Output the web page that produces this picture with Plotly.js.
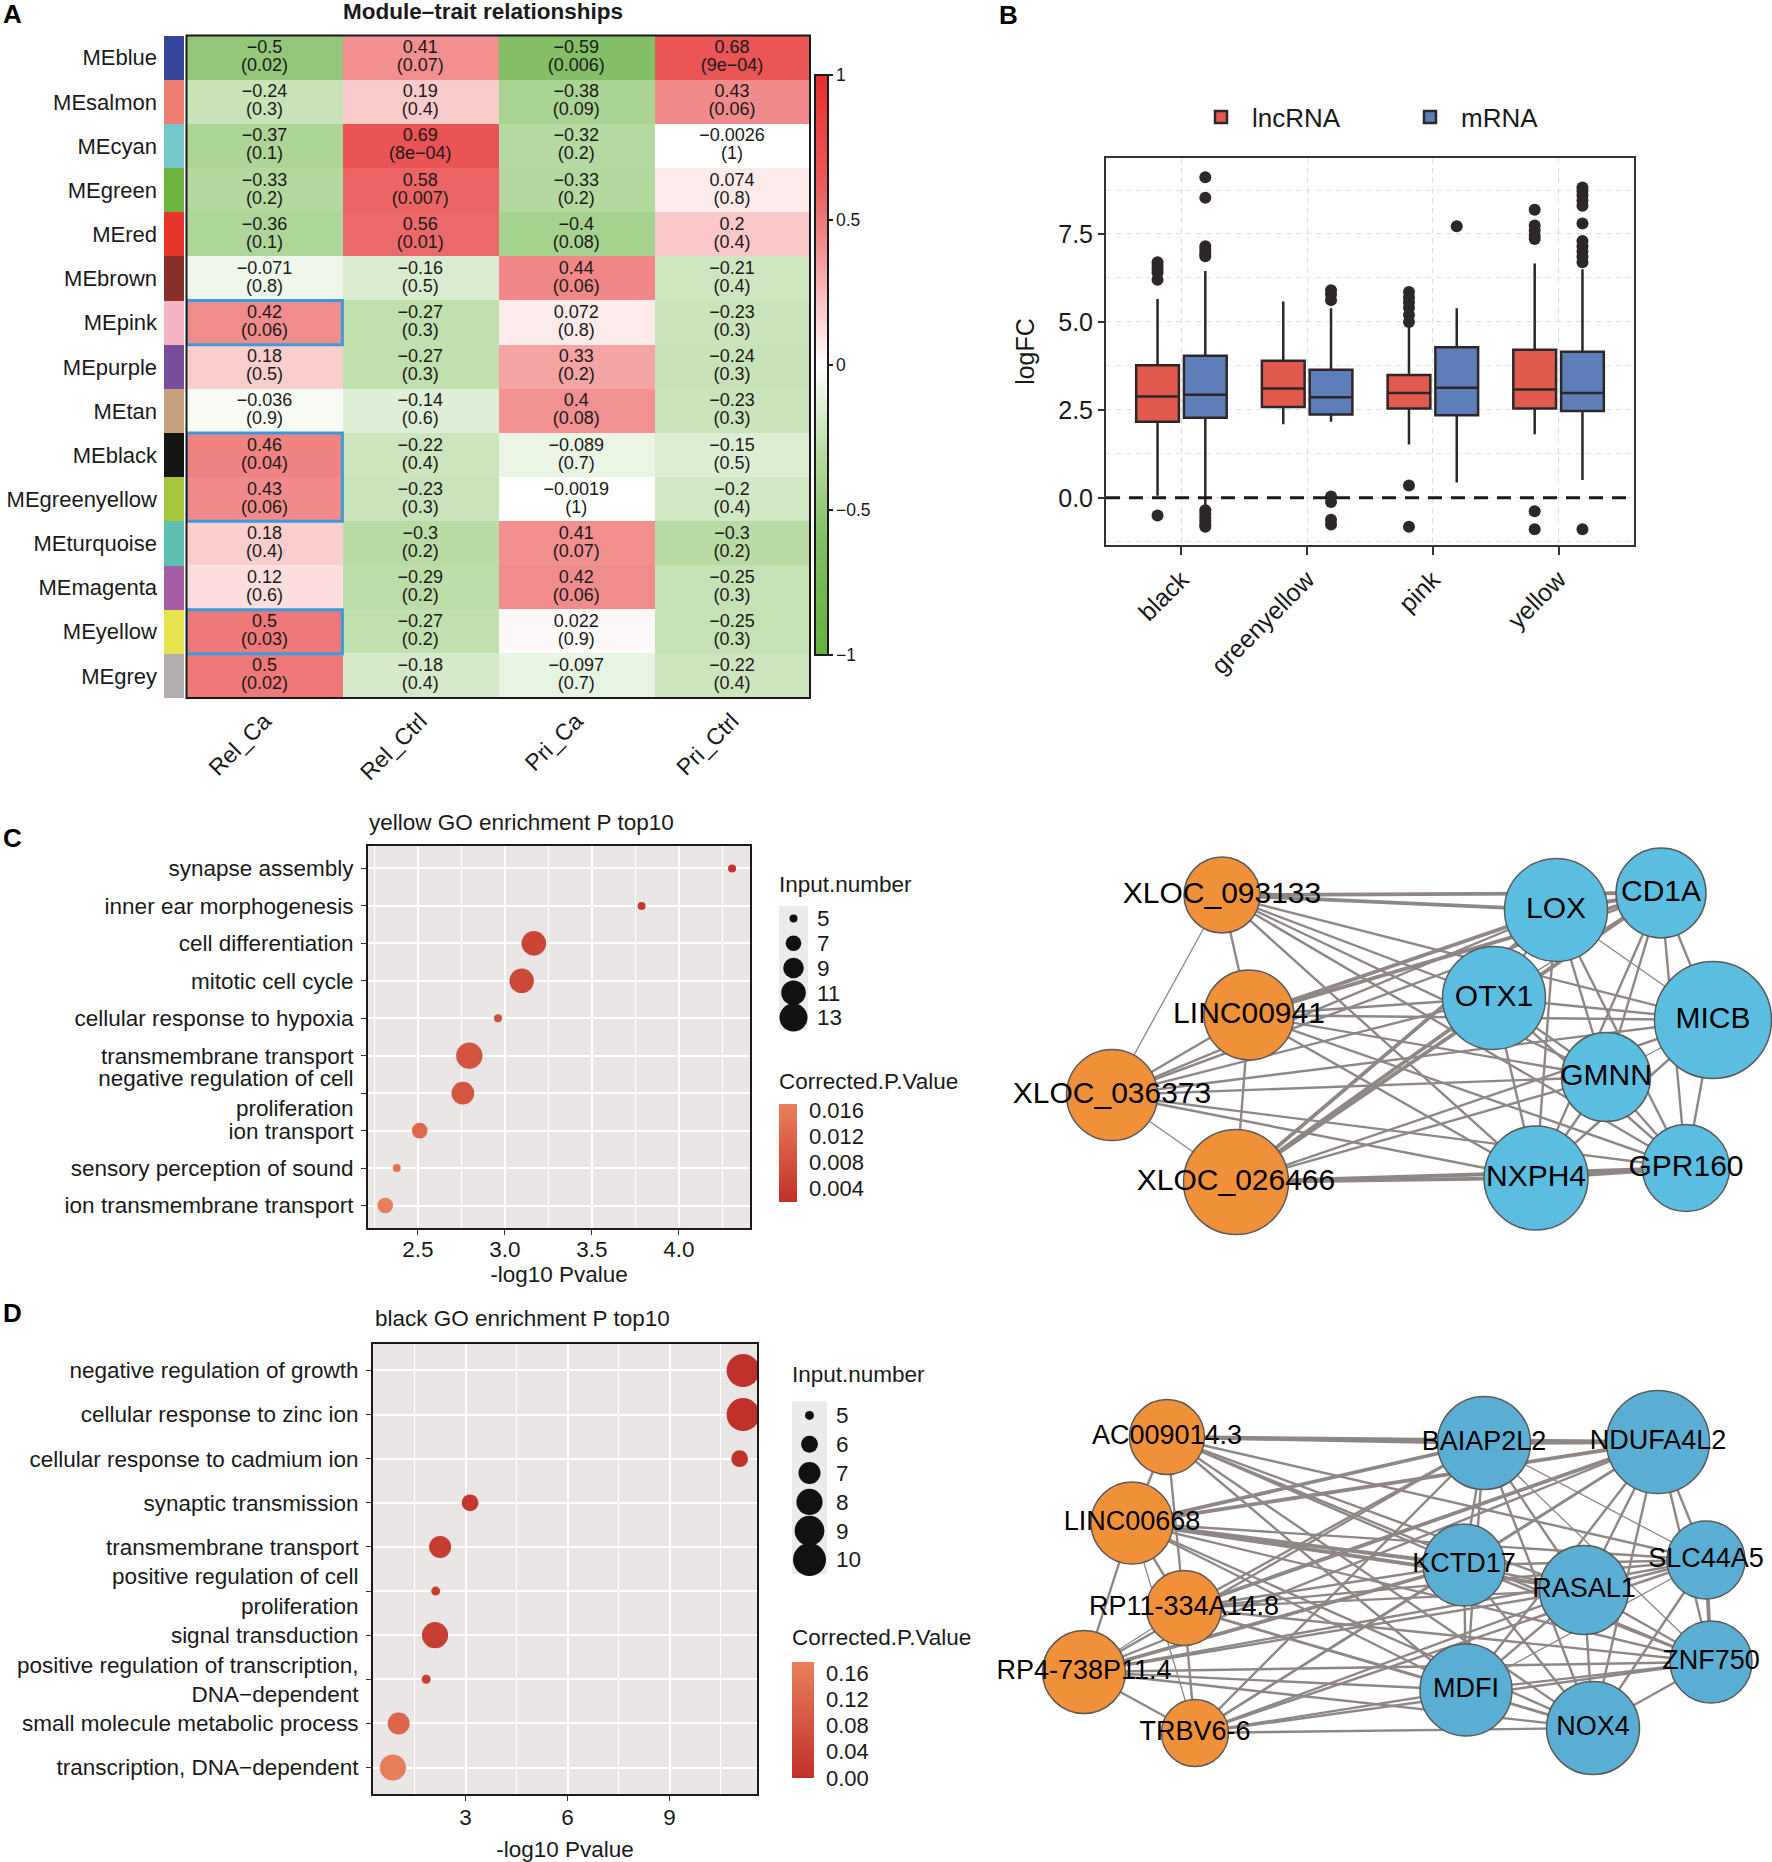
<!DOCTYPE html>
<html><head><meta charset="utf-8">
<script src="https://cdn.plot.ly/plotly-3.0.1.min.js"></script>
<style>html,body{margin:0;padding:0;background:#fff;}#chart{width:1772px;height:1862px;}</style>
</head><body><div id="chart"></div>
<script>
// ================= Panel A data =================
const modules = ['MEblue','MEsalmon','MEcyan','MEgreen','MEred','MEbrown','MEpink','MEpurple','MEtan','MEblack','MEgreenyellow','MEturquoise','MEmagenta','MEyellow','MEgrey'];
const moduleColors = ['#35469A','#F07E70','#74C7CB','#6CB43E','#E8352B','#8A2E28','#F4B4C6','#7A4C9C','#C8A27E','#141414','#A3C63B','#5EBEB0','#A65BA5','#E7E34C','#B2ACAC'];
const traits = ['Rel_Ca','Rel_Ctrl','Pri_Ca','Pri_Ctrl'];
const corrValues = [
  [-0.5, 0.41, -0.59, 0.68],
  [-0.24, 0.19, -0.38, 0.43],
  [-0.37, 0.69, -0.32, -0.0026],
  [-0.33, 0.58, -0.33, 0.074],
  [-0.36, 0.56, -0.4, 0.2],
  [-0.071, -0.16, 0.44, -0.21],
  [0.42, -0.27, 0.072, -0.23],
  [0.18, -0.27, 0.33, -0.24],
  [-0.036, -0.14, 0.4, -0.23],
  [0.46, -0.22, -0.089, -0.15],
  [0.43, -0.23, -0.0019, -0.2],
  [0.18, -0.3, 0.41, -0.3],
  [0.12, -0.29, 0.42, -0.25],
  [0.5, -0.27, 0.022, -0.25],
  [0.5, -0.18, -0.097, -0.22]
];
const pValueLabels = [
  ['0.02','0.07','0.006','9e\u221204'],
  ['0.3','0.4','0.09','0.06'],
  ['0.1','8e\u221204','0.2','1'],
  ['0.2','0.007','0.2','0.8'],
  ['0.1','0.01','0.08','0.4'],
  ['0.8','0.5','0.06','0.4'],
  ['0.06','0.3','0.8','0.3'],
  ['0.5','0.3','0.2','0.3'],
  ['0.9','0.6','0.08','0.3'],
  ['0.04','0.4','0.7','0.5'],
  ['0.06','0.3','1','0.4'],
  ['0.4','0.2','0.07','0.2'],
  ['0.6','0.2','0.06','0.3'],
  ['0.03','0.2','0.9','0.3'],
  ['0.02','0.4','0.7','0.4']
];
const highlightTrait = 'Rel_Ca';
const highlightGroups = [['MEpink'],['MEblack','MEgreenyellow'],['MEyellow']];
const corrTicks = [-1,-0.5,0,0.5,1];

// ================= Panel B data =================
const boxCats = ['black','greenyellow','pink','yellow'];
const lncQ1 = [2.16, 2.58, 2.54, 2.54];
const lncMedian = [2.88, 3.11, 2.98, 3.08];
const lncQ3 = [3.77, 3.90, 3.49, 4.21];
const lncLower = [0.06, 2.09, 1.52, 1.81];
const lncUpper = [5.65, 5.58, 4.85, 6.66];
const lncOutliers = [
  [6.7, 6.6, 6.5, 6.4, 6.2, -0.5],
  [],
  [5.85, 5.7, 5.55, 5.4, 5.2, 5.0, 0.35, -0.82],
  [8.19, 7.74, 7.6, 7.45, 7.36, -0.38, -0.89]
];
const mrnaQ1 = [2.28, 2.37, 2.35, 2.47];
const mrnaMedian = [2.93, 2.86, 3.13, 2.98];
const mrnaQ3 = [4.04, 3.64, 4.28, 4.15];
const mrnaLower = [-0.2, 2.16, 0.44, 0.51];
const mrnaUpper = [6.45, 5.39, 5.39, 6.5];
const mrnaOutliers = [
  [9.11, 8.53, 7.15, 7.05, 6.95, 6.87, -0.35, -0.45, -0.55, -0.65, -0.75, -0.82],
  [5.9, 5.78, 5.62, 0.04, -0.12, -0.62, -0.76],
  [7.72],
  [8.82, 8.72, 8.6, 8.45, 8.3, 7.8, 7.3, 7.15, 7.0, 6.85, 6.7, -0.89]
];
const logFCTicks = [0, 2.5, 5, 7.5];

// ================= Panel C data =================
const termsC = ['synapse assembly','inner ear morphogenesis','cell differentiation','mitotic cell cycle','cellular response to hypoxia','transmembrane transport','negative regulation of cell<br>proliferation','ion transport','sensory perception of sound','ion transmembrane transport'];
const log10PC = [4.305, 3.785, 3.166, 3.096, 2.96, 2.795, 2.758, 2.51, 2.378, 2.312];
const countC = [5, 5, 11, 11, 5, 12, 10, 7, 5, 7];
const padjC = [0.0022, 0.0032, 0.0058, 0.0064, 0.0072, 0.0088, 0.009, 0.0125, 0.0145, 0.0165];
const sizeBreaksC = [5, 7, 9, 11, 13];
const padjTicksC = [0.004, 0.008, 0.012, 0.016];
const xTicksC = [2.5, 3.0, 3.5, 4.0];

// ================= Panel D data =================
const termsD = ['negative regulation of growth','cellular response to zinc ion','cellular response to cadmium ion','synaptic transmission','transmembrane transport','positive regulation of cell<br>proliferation','signal transduction','positive regulation of transcription,<br>DNA\u2212dependent','small molecule metabolic process','transcription, DNA\u2212dependent'];
const log10PD = [11.16, 11.16, 11.06, 3.13, 2.25, 2.12, 2.10, 1.84, 1.03, 0.86];
const countD = [10, 10, 6, 6, 7, 5, 8, 5, 7, 8];
const padjD = [0.003, 0.003, 0.005, 0.016, 0.026, 0.028, 0.03, 0.034, 0.12, 0.17];
const sizeBreaksD = [5, 6, 7, 8, 9, 10];
const padjTicksD = [0, 0.04, 0.08, 0.12, 0.16];
const xTicksD = [3, 6, 9];

// ================= Networks (layout coordinates) =================
const net1Names = ['XLOC_093133','LINC00941','XLOC_036373','XLOC_026466','LOX','CD1A','OTX1','MICB','GMNN','NXPH4','GPR160'];
const net1Type  = ['lnc','lnc','lnc','lnc','m','m','m','m','m','m','m'];
const net1X = [182, 209, 72, 196, 516, 621, 454, 673, 566, 496, 646];
const net1Y = [45, 165, 245, 332, 60, 43, 148, 170, 227, 328, 318];
const net1Size = [76, 90, 91, 105, 103, 90, 103, 117, 89, 104, 87];
const net1Lnc = ['XLOC_093133','LINC00941','XLOC_036373','XLOC_026466'];
const net1Mrna = ['LOX','CD1A','OTX1','MICB','GMNN','NXPH4','GPR160'];
const net1LncMrnaWeight = [
  [3,3,2,2,2,2,2],
  [3,3,2,2,2,2,2],
  [2,2,2,2,2,2,2],
  [3,3,3,2,2,3,3]
];
const net1OtherEdges = [
  ['XLOC_093133','LINC00941',2],['XLOC_093133','XLOC_036373',1],['LINC00941','XLOC_036373',2],
  ['LINC00941','XLOC_026466',2],['XLOC_036373','XLOC_026466',1],
  ['LOX','CD1A',3],['LOX','MICB',1],['LOX','GMNN',2],['LOX','NXPH4',2],['LOX','GPR160',2],['LOX','OTX1',2],
  ['CD1A','MICB',2],['CD1A','GMNN',2],['CD1A','GPR160',2],['CD1A','NXPH4',2],['CD1A','OTX1',1],
  ['OTX1','GMNN',2],['OTX1','NXPH4',2],['OTX1','GPR160',2],['OTX1','MICB',2],
  ['MICB','GPR160',2],['MICB','GMNN',1],['MICB','NXPH4',2],
  ['GMNN','NXPH4',2],['GMNN','GPR160',2],['NXPH4','GPR160',3]
];

const net2Names = ['AC009014.3','LINC00668','RP11-334A14.8','RP4-738P11.4','TRBV6-6','BAIAP2L2','NDUFA4L2','KCTD17','RASAL1','SLC44A5','ZNF750','MDFI','NOX4'];
const net2Type  = ['lnc','lnc','lnc','lnc','lnc','m','m','m','m','m','m','m','m'];
const net2X = [127, 92, 144, 44, 155, 444, 618, 424, 544, 666, 671, 426, 553];
const net2Y = [57, 143, 228, 292, 353, 63, 62, 185, 210, 180, 282, 310, 348];
const net2Size = [75, 82, 75, 83, 67, 93, 103, 82, 89, 78, 82, 92, 93];
const net2Lnc = ['AC009014.3','LINC00668','RP11-334A14.8','RP4-738P11.4','TRBV6-6'];
const net2Mrna = ['BAIAP2L2','NDUFA4L2','KCTD17','RASAL1','SLC44A5','ZNF750','MDFI','NOX4'];
const net2LncMrnaWeight = [
  [3,3,2,2,2,2,2,2],
  [3,3,3,3,2,2,2,2],
  [2,3,2,2,2,2,2,2],
  [2,2,3,2,2,2,2,2],
  [2,2,2,2,2,2,2,2]
];
const net2OtherEdges = [
  ['AC009014.3','LINC00668',2],['AC009014.3','RP11-334A14.8',2],['LINC00668','RP11-334A14.8',2],
  ['LINC00668','RP4-738P11.4',2],['LINC00668','TRBV6-6',1],['RP11-334A14.8','TRBV6-6',2],
  ['RP4-738P11.4','TRBV6-6',2],['RP4-738P11.4','RP11-334A14.8',1],
  ['BAIAP2L2','NDUFA4L2',3],['BAIAP2L2','KCTD17',2],['BAIAP2L2','RASAL1',2],['BAIAP2L2','SLC44A5',1],
  ['BAIAP2L2','ZNF750',1],['BAIAP2L2','MDFI',2],['BAIAP2L2','NOX4',2],
  ['NDUFA4L2','KCTD17',2],['NDUFA4L2','RASAL1',2],['NDUFA4L2','SLC44A5',2],['NDUFA4L2','ZNF750',2],
  ['NDUFA4L2','MDFI',2],['NDUFA4L2','NOX4',2],
  ['KCTD17','RASAL1',2],['KCTD17','SLC44A5',2],['KCTD17','ZNF750',2],['KCTD17','MDFI',2],['KCTD17','NOX4',2],
  ['RASAL1','SLC44A5',2],['RASAL1','ZNF750',2],['RASAL1','MDFI',2],['RASAL1','NOX4',2],
  ['SLC44A5','ZNF750',3],['SLC44A5','MDFI',1],['SLC44A5','NOX4',2],
  ['ZNF750','MDFI',2],['ZNF750','NOX4',2],['MDFI','NOX4',2]
];

// ================= Helpers =================
const W = 1772, H = 1862;
const FONT = 'Liberation Sans, Arial, Helvetica, sans-serif';
const INK = '#1a1a1a';
const xd = (a, b) => [a / W, b / W];
const yd = (top, bottom) => [1 - bottom / H, 1 - top / H];
const px = v => v / W;
const py = v => 1 - v / H;
const fmtNum = v => String(v).replace('-', '\u2212');
const sizeC = n => Math.sqrt(64 + 90 * (n - 5));
const sizeD = n => Math.sqrt(81 + 201.6 * (n - 5));

const traces = [];
const shapes = [];
const annotations = [];

// ================= Panel A =================
const heatScale = [[0,'rgb(100,176,60)'],[0.2,'rgb(128,190,100)'],[0.35,'rgb(185,220,165)'],[0.5,'rgb(255,255,255)'],[0.6,'rgb(250,200,200)'],[0.7,'rgb(242,145,145)'],[0.8,'rgb(235,95,95)'],[1,'rgb(230,45,45)']];
traces.push({
  type: 'heatmap', x: traits, y: modules, z: corrValues, zmin: -1, zmax: 1,
  colorscale: heatScale, xaxis: 'x', yaxis: 'y', hoverinfo: 'skip', showlegend: false,
  colorbar: {
    x: px(815), xanchor: 'left', y: py(75), yanchor: 'top', len: 580, lenmode: 'pixels',
    thickness: 13, thicknessmode: 'pixels', outlinewidth: 2, outlinecolor: INK, xpad: 0, ypad: 0,
    tickvals: corrTicks, ticktext: corrTicks.map(fmtNum), ticks: 'outside', ticklen: 4,
    tickwidth: 2, tickcolor: INK, tickfont: {size: 17.5, color: INK, family: FONT}
  }
});
// module colour strip
traces.push({
  type: 'bar', orientation: 'h', y: modules, x: modules.map(() => 1),
  marker: {color: moduleColors, line: {width: 0}}, width: 1,
  xaxis: 'x7', yaxis: 'y', hoverinfo: 'skip', showlegend: false
});
// cell texts (correlation above, p-value below)
const cellX = [], cellY = [], cellR = [], cellP = [];
modules.forEach((m, i) => traits.forEach((t, j) => {
  cellX.push(t); cellY.push(m);
  cellR.push(fmtNum(corrValues[i][j]));
  cellP.push('(' + pValueLabels[i][j] + ')');
}));
traces.push({type:'scatter', mode:'text', x: cellX, y: cellY, text: cellR, textposition: 'top center',
  textfont: {size: 18, color: INK, family: FONT}, marker: {size: 1}, xaxis: 'x', yaxis: 'y',
  hoverinfo: 'skip', showlegend: false, cliponaxis: false});
traces.push({type:'scatter', mode:'text', x: cellX, y: cellY, text: cellP, textposition: 'bottom center',
  textfont: {size: 18, color: INK, family: FONT}, marker: {size: 1}, xaxis: 'x', yaxis: 'y',
  hoverinfo: 'skip', showlegend: false, cliponaxis: false});
// highlight rectangles
const hx = traits.indexOf(highlightTrait);
highlightGroups.forEach(g => {
  const idx = g.map(m => modules.indexOf(m));
  shapes.push({type: 'rect', xref: 'x', yref: 'y', x0: hx - 0.5, x1: hx + 0.5,
    y0: Math.min(...idx) - 0.5, y1: Math.max(...idx) + 0.5,
    line: {color: '#3A9BDA', width: 3}, fillcolor: 'rgba(0,0,0,0)', layer: 'above'});
});
shapes.push({type:'rect', xref:'x domain', yref:'y domain', x0:0, x1:1, y0:0, y1:1, line:{color:INK, width:2}, layer:'above'});

// ================= Panel B =================
const lncOffset = -0.19, mrnaOffset = 0.19;
const lncPos = boxCats.map((c, i) => i + lncOffset);
const mrnaPos = boxCats.map((c, i) => i + mrnaOffset);
traces.push({type:'box', name:'lncRNA', x: lncPos, q1: lncQ1, median: lncMedian, q3: lncQ3,
  lowerfence: lncLower, upperfence: lncUpper, width: 0.34, whiskerwidth: 0, boxpoints: false,
  fillcolor: '#E05A4E', line: {color: '#2D2727', width: 2.5}, xaxis: 'x2', yaxis: 'y2', hoverinfo: 'skip'});
traces.push({type:'box', name:'mRNA', x: mrnaPos, q1: mrnaQ1, median: mrnaMedian, q3: mrnaQ3,
  lowerfence: mrnaLower, upperfence: mrnaUpper, width: 0.34, whiskerwidth: 0, boxpoints: false,
  fillcolor: '#5E7EBA', line: {color: '#2D2727', width: 2.5}, xaxis: 'x2', yaxis: 'y2', hoverinfo: 'skip'});
const outX = [], outY = [];
lncOutliers.forEach((arr, i) => arr.forEach(v => { outX.push(lncPos[i]); outY.push(v); }));
mrnaOutliers.forEach((arr, i) => arr.forEach(v => { outX.push(mrnaPos[i]); outY.push(v); }));
traces.push({type:'scatter', mode:'markers', x: outX, y: outY, marker: {size: 12, color: '#2D2727'},
  xaxis: 'x2', yaxis: 'y2', hoverinfo: 'skip', showlegend: false});
shapes.push({type:'line', xref:'x2 domain', yref:'y2', x0:0, x1:1, y0:0, y1:0,
  line:{color:INK, width:3, dash:'14px,9px'}, layer:'above'});

// ================= Panel C =================
const padjScale = [[0,'#C0302A'],[1,'#E9805B']];
const padjColorbar = (left, top, len, thick, vals, digits) => ({
  x: px(left), xanchor: 'left', y: py(top), yanchor: 'top', len: len, lenmode: 'pixels',
  thickness: thick, thicknessmode: 'pixels', outlinewidth: 0, xpad: 0, ypad: 0,
  tickvals: vals, ticktext: vals.map(v => v.toFixed(digits)), ticks: 'outside', ticklen: 8,
  tickcolor: 'rgba(0,0,0,0)', tickfont: {size: 22, color: INK, family: FONT}
});
traces.push({type:'scatter', mode:'markers', x: log10PC, y: termsC,
  marker: {size: countC.map(sizeC), sizemode: 'diameter', color: padjC, colorscale: padjScale,
    cmin: 0.00185, cmax: 0.0169, line: {width: 0}, opacity: 1,
    colorbar: padjColorbar(779, 1104, 98, 18, padjTicksC, 3)},
  xaxis: 'x3', yaxis: 'y3', hoverinfo: 'skip', showlegend: false});
traces.push({type:'scatter', mode:'markers', x: sizeBreaksC.map(() => 0), y: sizeBreaksC.map(String),
  marker: {size: sizeBreaksC.map(sizeC), sizemode: 'diameter', color: '#111111', opacity: 1, line:{width:0}},
  xaxis: 'x5', yaxis: 'y5', hoverinfo: 'skip', showlegend: false, cliponaxis: false});
shapes.push({type:'rect', xref:'x3 domain', yref:'y3 domain', x0:0, x1:1, y0:0, y1:1, fillcolor:'#EAE6E5', line:{width:0}, layer:'below'});
shapes.push({type:'rect', xref:'x5 domain', yref:'y5 domain', x0:0, x1:1, y0:0, y1:1, fillcolor:'#EBEBEB', line:{width:0}, layer:'below'});

// ================= Panel D =================
traces.push({type:'scatter', mode:'markers', x: log10PD, y: termsD,
  marker: {size: countD.map(sizeD), sizemode: 'diameter', color: padjD, colorscale: padjScale,
    cmin: 0.0, cmax: 0.177, line: {width: 0}, opacity: 1,
    colorbar: padjColorbar(792, 1662, 116, 22, padjTicksD, 2)},
  xaxis: 'x4', yaxis: 'y4', hoverinfo: 'skip', showlegend: false});
traces.push({type:'scatter', mode:'markers', x: sizeBreaksD.map(() => 0), y: sizeBreaksD.map(String),
  marker: {size: sizeBreaksD.map(sizeD), sizemode: 'diameter', color: '#111111', opacity: 1, line:{width:0}},
  xaxis: 'x6', yaxis: 'y6', hoverinfo: 'skip', showlegend: false, cliponaxis: false});
shapes.push({type:'rect', xref:'x4 domain', yref:'y4 domain', x0:0, x1:1, y0:0, y1:1, fillcolor:'#EAE6E5', line:{width:0}, layer:'below'});
shapes.push({type:'rect', xref:'x6 domain', yref:'y6 domain', x0:0, x1:1, y0:0, y1:1, fillcolor:'#EBEBEB', line:{width:0}, layer:'below'});

// ================= Networks =================
const edgeWidth = {1: 1.3, 2: 2.4, 3: 3.8};
function networkTraces(names, types, xs, ys, sizes, lncList, mrnaList, weights, others, xa, ya, mColor, fontSize) {
  const edges = [];
  lncList.forEach((l, i) => mrnaList.forEach((m, j) => edges.push([l, m, weights[i][j]])));
  others.forEach(e => edges.push(e));
  [1, 2, 3].forEach(w => {
    const ex = [], ey = [];
    edges.filter(e => e[2] === w).forEach(e => {
      const a = names.indexOf(e[0]), b = names.indexOf(e[1]);
      ex.push(xs[a], xs[b], null); ey.push(ys[a], ys[b], null);
    });
    traces.push({type:'scatter', mode:'lines', x: ex, y: ey, line: {color: '#8E8786', width: edgeWidth[w]},
      xaxis: xa, yaxis: ya, hoverinfo: 'skip', showlegend: false, cliponaxis: false});
  });
  traces.push({type:'scatter', mode:'markers+text', x: xs, y: ys, text: names, textposition: 'middle center',
    textfont: {size: fontSize, color: '#000', family: FONT},
    marker: {size: sizes, sizemode: 'diameter', color: types.map(t => t === 'lnc' ? '#F0913A' : mColor),
      line: {color: '#5A5A5A', width: 1.5}, opacity: 1},
    xaxis: xa, yaxis: ya, hoverinfo: 'skip', showlegend: false, cliponaxis: false});
}
networkTraces(net1Names, net1Type, net1X, net1Y, net1Size, net1Lnc, net1Mrna, net1LncMrnaWeight, net1OtherEdges, 'x8', 'y8', '#5BBEE0', 30);
networkTraces(net2Names, net2Type, net2X, net2Y, net2Size, net2Lnc, net2Mrna, net2LncMrnaWeight, net2OtherEdges, 'x9', 'y9', '#5AAED3', 27);

// ================= Annotations =================
function label(text, x, y, opts) {
  annotations.push(Object.assign({text, xref:'paper', yref:'paper', x: px(x), y: py(y), showarrow:false,
    xanchor:'left', yanchor:'middle', font:{size:22.5, color:INK, family:FONT}}, opts || {}));
}
label('<b>A</b>', 1, 14, {font:{size:26, color:'#000', family:FONT}});
label('<b>B</b>', 997, 15, {font:{size:26, color:'#000', family:FONT}});
label('<b>C</b>', 1, 838, {font:{size:26, color:'#000', family:FONT}});
label('<b>D</b>', 1, 1313, {font:{size:26, color:'#000', family:FONT}});
label('<b>Module\u2013trait relationships</b>', 483, 12, {xanchor:'center'});
label('yellow GO enrichment P top10', 521, 823, {xanchor:'center'});
label('black GO enrichment P top10', 522, 1318, {xanchor:'center'});
label('Input.number', 777, 884);
label('Corrected.P.Value', 777, 1081);
label('Input.number', 790, 1374);
label('Corrected.P.Value', 790, 1637);

// ================= Layout =================
const tickFont = {size: 22.5, color: INK, family: FONT};
const layout = {
  width: W, height: H, margin: {l:0, r:0, t:0, b:0, pad:0},
  paper_bgcolor: '#ffffff', plot_bgcolor: 'rgba(0,0,0,0)',
  font: {family: FONT, color: INK, size: 20},
  hovermode: false, bargap: 0, boxmode: 'overlay',
  showlegend: true,
  legend: {orientation:'h', x: px(1190), xanchor:'left', y: py(117), yanchor:'middle',
    font:{size:26, color:INK, family:FONT}, entrywidth: 142, entrywidthmode:'pixels', bgcolor:'rgba(0,0,0,0)', itemwidth: 52},
  // Panel A
  xaxis: {domain: xd(186.5, 810), anchor:'y', type:'category', range:[-0.5, traits.length - 0.5], tickangle:-45, ticks:'', showgrid:false,
    zeroline:false, showline:false, tickfont:{size:23, color:INK, family:FONT}, ticklabelstandoff: 4},
  yaxis: {domain: yd(35.6, 698), anchor:'x7', type:'category', range:[modules.length - 0.5, -0.5], ticks:'', showgrid:false,
    zeroline:false, showline:false, tickfont:{size:22, color:INK, family:FONT}, ticklabelstandoff: 6},
  xaxis7: {domain: xd(164, 184), anchor:'y', range:[0,1], visible:false, fixedrange:true},
  // Panel B
  xaxis2: {domain: xd(1106, 1634), anchor:'y2', range:[-0.6, 3.6], tickvals: boxCats.map((c,i)=>i), ticktext: boxCats,
    tickangle:-45, ticks:'outside', ticklen:8, tickwidth:2, tickcolor:'#333', showgrid:true, gridcolor:'#DDDDDD',
    griddash:'5px,5px', gridwidth:1, zeroline:false, showline:true, mirror:true, linecolor:'#333', linewidth:2,
    tickfont:{size:25, color:INK, family:FONT}},
  yaxis2: {domain: yd(158, 545), anchor:'x2', range:[-1.34, 9.66], tickvals: logFCTicks, ticktext: logFCTicks.map(v=>v.toFixed(1)),
    ticks:'outside', ticklen:6, tickwidth:2, tickcolor:'#333', showgrid:true, gridcolor:'#DDDDDD', griddash:'5px,5px',
    minor:{tick0:0, dtick:1.25, showgrid:true, gridcolor:'#E6E6E6', griddash:'5px,5px', ticklen:0},
    zeroline:false, showline:true, mirror:true, linecolor:'#333', linewidth:2,
    tickfont:{size:25, color:INK, family:FONT}, title:{text:'logFC', font:{size:25, color:INK, family:FONT}, standoff:16}},
  // Panel C
  xaxis3: {domain: xd(368, 750), anchor:'y3', range:[2.213, 4.408], tickvals: xTicksC, ticktext: xTicksC.map(v=>v.toFixed(1)),
    ticks:'outside', ticklen:5, tickcolor:'#333', showgrid:true, gridcolor:'#ffffff', gridwidth:2,
    minor:{tick0:0, dtick:0.25, showgrid:true, gridcolor:'#ffffff', gridwidth:1, ticklen:0},
    zeroline:false, showline:true, mirror:true, linecolor:INK, linewidth:2, tickfont: tickFont, ticklabelstandoff: -5,
    title:{text:'-log10 Pvalue', font: tickFont, standoff:0}},
  yaxis3: {domain: yd(846, 1228), anchor:'x3', type:'category', categoryarray: termsC, range:[9.6, -0.6],
    ticks:'outside', ticklen:5, tickcolor:'#333', showgrid:true, gridcolor:'#ffffff', gridwidth:2,
    zeroline:false, showline:true, mirror:true, linecolor:INK, linewidth:2, tickfont: tickFont, ticklabelstandoff: 3},
  xaxis5: {domain: xd(779, 808), anchor:'y5', range:[-1, 1], visible:false},
  yaxis5: {domain: yd(906, 1030), anchor:'x5', side:'right', type:'category', categoryarray: sizeBreaksC.map(String),
    tickmode:'array', tickvals: sizeBreaksC.map(String), ticktext: sizeBreaksC.map(String),
    range:[4.5, -0.5], ticks:'', showgrid:false, zeroline:false, showline:false, tickfont: tickFont, ticklabelstandoff: 8},
  // Panel D
  xaxis4: {domain: xd(373, 757), anchor:'y4', range:[0.276, 11.57], tickvals: xTicksD, ticktext: xTicksD.map(String),
    ticks:'outside', ticklen:5, tickcolor:'#333', showgrid:true, gridcolor:'#ffffff', gridwidth:2,
    minor:{tick0:0, dtick:1.5, showgrid:true, gridcolor:'#ffffff', gridwidth:1, ticklen:0},
    zeroline:false, showline:true, mirror:true, linecolor:INK, linewidth:2, tickfont: tickFont, ticklabelstandoff: -3,
    title:{text:'-log10 Pvalue', font: tickFont, standoff:14}},
  yaxis4: {domain: yd(1344, 1794), anchor:'x4', type:'category', categoryarray: termsD, range:[9.6, -0.6],
    ticks:'outside', ticklen:5, tickcolor:'#333', showgrid:true, gridcolor:'#ffffff', gridwidth:2,
    zeroline:false, showline:true, mirror:true, linecolor:INK, linewidth:2, tickfont: tickFont, ticklabelstandoff: 3},
  xaxis6: {domain: xd(792, 827), anchor:'y6', range:[-1, 1], visible:false},
  yaxis6: {domain: yd(1401, 1574), anchor:'x6', side:'right', type:'category', categoryarray: sizeBreaksD.map(String),
    tickmode:'array', tickvals: sizeBreaksD.map(String), ticktext: sizeBreaksD.map(String),
    range:[5.5, -0.5], ticks:'', showgrid:false, zeroline:false, showline:false, tickfont: tickFont, ticklabelstandoff: 8},
  // Networks
  xaxis8: {domain: xd(1040, 1772), anchor:'y8', range:[0, 732], visible:false},
  yaxis8: {domain: yd(850, 1250), anchor:'x8', range:[400, 0], visible:false},
  xaxis9: {domain: xd(1040, 1772), anchor:'y9', range:[0, 732], visible:false},
  yaxis9: {domain: yd(1380, 1790), anchor:'x9', range:[410, 0], visible:false},
  shapes: shapes,
  annotations: annotations
};

Plotly.newPlot('chart', traces, layout, {staticPlot: true, displayModeBar: false});
</script>
</body></html>
